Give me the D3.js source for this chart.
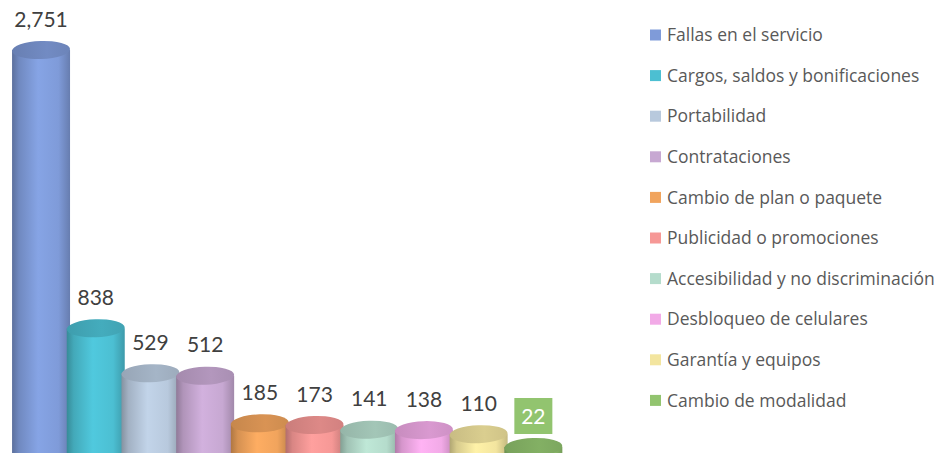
<!DOCTYPE html>
<html>
<head>
<meta charset="utf-8">
<script src="https://cdn.jsdelivr.net/npm/d3@7"></script>
<style>
  body { margin: 0; background: #fff; }
  svg { display: block; font-family: Lato, "Open Sans", sans-serif; }
</style>
</head>
<body>
<div id="chart"></div>
<script>
// categorías y valores
const categories = [
  "Fallas en el servicio",
  "Cargos, saldos y bonificaciones",
  "Portabilidad",
  "Contrataciones",
  "Cambio de plan o paquete",
  "Publicidad o promociones",
  "Accesibilidad y no discriminación",
  "Desbloqueo de celulares",
  "Garantía y equipos",
  "Cambio de modalidad"
];
const values = [2751, 838, 529, 512, 185, 173, 141, 138, 110, 22];
const colors = ["#7f9bd9", "#4cbfd2", "#b8c9dd", "#c7a8d2", "#f1a45d",
                "#f69896", "#b5dccc", "#f2aae7", "#f3e59f", "#92c46f"];

const W = 943, H = 453;

const svg = d3.select("#chart").append("svg")
  .attr("width", W)
  .attr("height", H);

const x = d3.scaleBand()
  .domain(categories)
  .range([13.7, 560.7])
  .padding(0);

const y = d3.scaleLinear()
  .domain([0, 2751])
  .range([450.2, 50]);

const color = d3.scaleOrdinal().domain(categories).range(colors);

// gradientes para dar efecto de cilindro
const defs = svg.append("defs");
categories.forEach((c, i) => {
  const base = d3.color(colors[i]);
  const g = defs.append("linearGradient")
    .attr("id", "cyl" + i)
    .attr("x1", "0%").attr("x2", "100%").attr("y1", "0%").attr("y2", "0%");
  g.append("stop").attr("offset", "0%").attr("stop-color", base.darker(0.9));
  g.append("stop").attr("offset", "12%").attr("stop-color", base.darker(0.35));
  g.append("stop").attr("offset", "45%").attr("stop-color", base.brighter(0.15));
  g.append("stop").attr("offset", "80%").attr("stop-color", base);
  g.append("stop").attr("offset", "100%").attr("stop-color", base.darker(0.6));

  const t = defs.append("linearGradient")
    .attr("id", "top" + i)
    .attr("x1", "0%").attr("x2", "100%").attr("y1", "0%").attr("y2", "0%");
  t.append("stop").attr("offset", "0%").attr("stop-color", base.darker(0.55));
  t.append("stop").attr("offset", "60%").attr("stop-color", base.darker(0.3));
  t.append("stop").attr("offset", "100%").attr("stop-color", base.darker(0.45));
});

const bw = x.bandwidth() * 1.06;
const ry = 9;

const bars = svg.selectAll(".bar")
  .data(categories)
  .enter().append("g")
  .attr("class", "bar");

// cuerpo del cilindro
bars.append("rect")
  .attr("x", d => x(d) + x.bandwidth() / 2 - bw / 2)
  .attr("y", (d, i) => y(values[i]))
  .attr("width", bw)
  .attr("height", (d, i) => H + 20 - y(values[i]))
  .attr("fill", (d, i) => `url(#cyl${i})`);

// tapa superior
bars.append("ellipse")
  .attr("cx", d => x(d) + x.bandwidth() / 2)
  .attr("cy", (d, i) => y(values[i]))
  .attr("rx", bw / 2)
  .attr("ry", ry)
  .attr("transform", (d, i) => `rotate(-2,${x(d) + x.bandwidth() / 2},${y(values[i])})`)
  .attr("fill", (d, i) => `url(#top${i})`);

// etiquetas de datos
const fmt = d3.format(",");
bars.each(function (d, i) {
  const g = d3.select(this);
  const cx = x(d) + x.bandwidth() / 2;
  const cy = y(values[i]) - 31;
  if (i === categories.length - 1) {
    g.append("rect")
      .attr("x", cx - 19)
      .attr("y", cy - 18)
      .attr("width", 38)
      .attr("height", 36)
      .attr("fill", colors[i]);
  }
  g.append("text")
    .attr("x", cx)
    .attr("y", cy)
    .attr("dy", "0.36em")
    .attr("text-anchor", "middle")
    .style("font-size", "21px")
    .style("fill", i === categories.length - 1 ? "#fff" : "#404040")
    .text(fmt(values[i]));
});

// leyenda
const legend = svg.selectAll(".legend")
  .data(categories)
  .enter().append("g")
  .attr("class", "legend")
  .attr("transform", (d, i) => `translate(650, ${35 + i * 40.6})`);

legend.append("rect")
  .attr("x", 0)
  .attr("y", -5.5)
  .attr("width", 11)
  .attr("height", 11)
  .style("fill", color);

legend.append("text")
  .attr("x", 17)
  .attr("y", 0)
  .attr("dy", "0.35em")
  .style("font-family", "'Open Sans', sans-serif")
  .style("font-size", "17.5px")
  .style("fill", "#595959")
  .text(d => d);
</script>
</body>
</html>
